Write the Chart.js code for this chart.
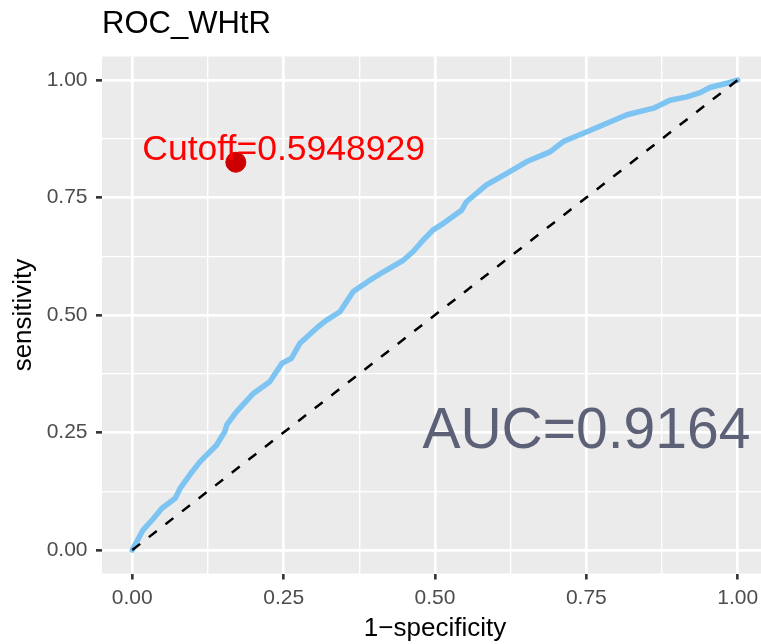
<!DOCTYPE html>
<html>
<head>
<meta charset="utf-8">
<script src="https://cdn.jsdelivr.net/npm/chart.js@4.4.1/dist/chart.umd.min.js"></script>
<style>
  html, body { margin:0; padding:0; background:#fff; overflow:hidden; }
  canvas { display:block; }
</style>
</head>
<body>
<canvas id="js-roc-chart" width="779" height="644"></canvas>
<script>
  /* ━━━━  DATA  ━━━━ */
  const FPR = [0, 0.018, 0.035, 0.049, 0.071, 0.079, 0.095, 0.112, 0.139, 0.153,
               0.156, 0.172, 0.2, 0.227, 0.247, 0.263, 0.277, 0.307, 0.321, 0.343,
               0.365, 0.39, 0.415, 0.448, 0.464, 0.481, 0.497, 0.514, 0.544, 0.552, 0.585,
               0.618, 0.651, 0.69, 0.712, 0.751, 0.784, 0.817, 0.861, 0.888, 0.916,
               0.938, 0.954, 0.982, 1.0];
  const TPR = [0, 0.043, 0.067, 0.089, 0.11, 0.131, 0.16, 0.188, 0.223, 0.252,
               0.266, 0.294, 0.333, 0.358, 0.397, 0.408, 0.44, 0.475, 0.489, 0.507,
               0.55, 0.572, 0.592, 0.617, 0.635, 0.66, 0.681, 0.695, 0.723, 0.741, 0.777,
               0.801, 0.826, 0.847, 0.869, 0.89, 0.908, 0.926, 0.94, 0.957, 0.964,
               0.973, 0.984, 0.993, 1.0];
  const DIAG_X = [0, 1];
  const DIAG_Y = [0, 1];
  const CUTOFF_X = [0.171];
  const CUTOFF_Y = [0.825];
  const GRID_STEPS = [0, 0.125, 0.25, 0.375, 0.5, 0.625, 0.75, 0.875, 1];
  const MAJOR_TICKS = [0, 0.25, 0.5, 0.75, 1];

  const TITLE = 'ROC_WHtR';
  const X_TITLE = '1\u2212specificity';
  const Y_TITLE = 'sensitivity';
  const CUTOFF_LABEL = 'Cutoff=0.5948929';
  const AUC_LABEL = 'AUC=0.9164';

  /* ━━━━  UTILS  ━━━━ */
  const FONT = "'Liberation Sans', Arial, Helvetica, sans-serif";
  const isMajor = v => MAJOR_TICKS.some(m => Math.abs(m - v) < 1e-9);
  const toPoints = (xs, ys) => xs.map((x, i) => ({ x, y: ys[i] }));

  /* grey ggplot panel behind the grid */
  const panelBg = {
    id: 'panelBg',
    beforeDraw(chart) {
      const { ctx, chartArea: a } = chart;
      ctx.save();
      ctx.fillStyle = '#EBEBEB';
      ctx.fillRect(a.left, a.top, a.right - a.left, a.bottom - a.top);
      ctx.restore();
    }
  };

  /* text annotations placed in data coords */
  const annotations = {
    id: 'annotations',
    afterDatasetsDraw(chart) {
      const { ctx, scales: { x, y } } = chart;
      ctx.save();
      ctx.textAlign = 'center';
      ctx.textBaseline = 'middle';
      ctx.fillStyle = '#FF0000';
      ctx.font = '35.5px ' + FONT;
      ctx.fillText(CUTOFF_LABEL, x.getPixelForValue(0.25), y.getPixelForValue(0.85));
      ctx.fillStyle = '#5C6177';
      ctx.font = '57px ' + FONT;
      ctx.fillText(AUC_LABEL, x.getPixelForValue(0.75), y.getPixelForValue(0.25));
      ctx.restore();
    }
  };

  function axisOpts(isX) {
    return {
      type: 'linear',
      position: isX ? 'bottom' : 'left',
      min: -0.05,
      max: 1.05,
      afterBuildTicks: s => { s.ticks = GRID_STEPS.map(v => ({ value: v })); },
      afterFit: s => { if (isX) s.height = 70.5; else s.width = 102; },
      grid: {
        color: '#FFFFFF',
        lineWidth: c => isMajor(c.tick.value) ? 2.7 : 1.35,
        drawTicks: true,
        tickLength: 6,
        tickWidth: 2.6,
        tickColor: c => isMajor(c.tick.value) ? '#333333' : 'rgba(0,0,0,0)'
      },
      border: { display: false },
      ticks: {
        autoSkip: false,
        maxRotation: 0,
        padding: isX ? 6 : 8.5,
        color: '#4D4D4D',
        font: { family: FONT, size: 21 },
        callback: v => isMajor(v) ? v.toFixed(2) : ''
      },
      title: {
        display: true,
        text: isX ? X_TITLE : Y_TITLE,
        color: '#000000',
        font: { family: FONT, size: 26 },
        padding: isX ? { top: 0, bottom: 0 } : { top: 8.4, bottom: 0 }
      }
    };
  }

  /* ━━━━  CHART  ━━━━ */
  new Chart(document.getElementById('js-roc-chart').getContext('2d'), {
    type: 'line',
    data: {
      datasets: [
        {
          type: 'scatter',
          data: toPoints(CUTOFF_X, CUTOFF_Y),
          backgroundColor: '#CC0000',
          borderColor: '#CC0000',
          pointRadius: 10,
          pointHoverRadius: 10
        },
        {
          data: toPoints(DIAG_X, DIAG_Y),
          borderColor: '#000000',
          borderWidth: 2.5,
          borderDash: [10, 11],
          pointRadius: 0,
          fill: false
        },
        {
          data: toPoints(FPR, TPR),
          borderColor: '#7EC4F2',
          borderWidth: 5.5,
          borderJoinStyle: 'round',
          borderCapStyle: 'round',
          pointRadius: 0,
          tension: 0,
          fill: false
        }
      ]
    },
    options: {
      responsive: false,
      animation: false,
      layout: { padding: { left: 0, right: 1, top: 0, bottom: 0 } },
      plugins: {
        legend: { display: false },
        tooltip: { enabled: false },
        title: {
          display: true,
          text: TITLE,
          align: 'start',
          fullSize: false,
          color: '#000000',
          font: { family: FONT, size: 31, weight: 'normal' },
          padding: { top: 6, bottom: 13.3 }
        }
      },
      scales: { x: axisOpts(true), y: axisOpts(false) }
    },
    plugins: [panelBg, annotations]
  });
</script>
</body>
</html>
